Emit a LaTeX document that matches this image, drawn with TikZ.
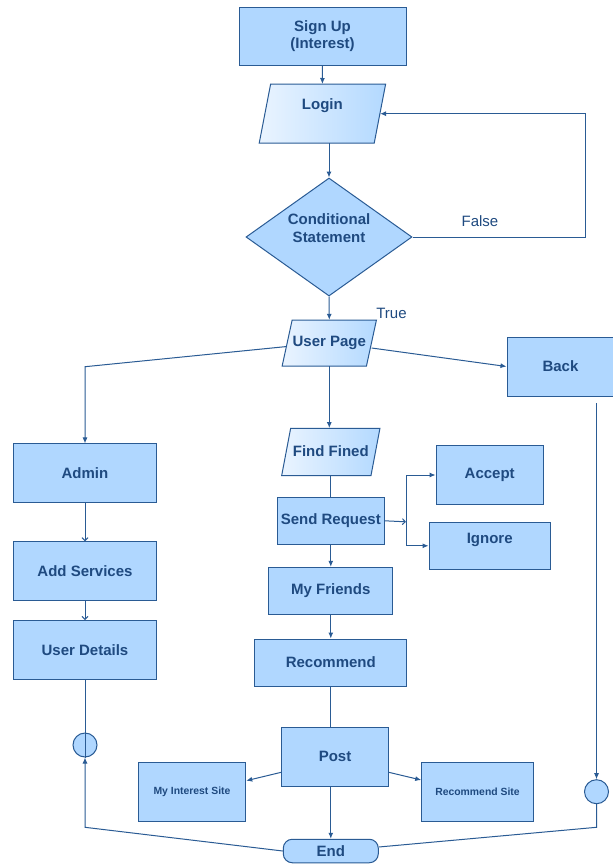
\documentclass[tikz,border=0pt]{standalone}
\usepackage{fontspec}
\setmainfont{Liberation Sans}
\usetikzlibrary{arrows.meta,shapes.geometric}
\definecolor{boxfill}{HTML}{B0D7FF}
\definecolor{edgec}{HTML}{2A5B94}
\definecolor{txt}{HTML}{1F4A80}
\definecolor{paraL}{HTML}{EAF4FF}
\definecolor{paraR}{HTML}{B3D9FF}
\newcommand\mypara[8]{%
  \shadedraw[parashape] ({#2-#4/2-#6/2},{#3+#5/2}) -- ({#2+#4/2-#6/2},{#3+#5/2}) -- ({#2+#4/2+#6/2},{#3-#5/2}) -- ({#2-#4/2+#6/2},{#3-#5/2}) -- cycle;
  \node[ghost, minimum width=#4pt, minimum height=#5pt] (#1) at (#2,#3) {};
  \node[lbl] at (#2,{#3-#8}) {#7};}
\tikzset{
 every node/.style={text=txt, font=\fontsize{15}{17.5}\selectfont\bfseries},
 box/.style={draw=edgec, fill=boxfill, line width=1pt, inner sep=0pt, align=center},
 ghost/.style={inner sep=0pt, draw=none},
 lbl/.style={align=center},
 parashape/.style={draw=edgec, line width=1pt, left color=paraL, right color=paraR},
 line/.style={draw=edgec, line width=1pt},
 arr/.style={line, -{Latex[length=6pt,width=5pt]}},
 openarr/.style={line, -{Straight Barb[length=3pt,width=6pt]}},
 circ/.style={circle, draw=edgec, fill=boxfill, line width=1pt, minimum size=24pt, inner sep=0pt},
 diam/.style={diamond, draw=edgec, fill=boxfill, line width=1pt, aspect=1.407, minimum width=166pt, minimum height=118pt, inner sep=0pt},
 endshape/.style={box, rounded corners=9pt, minimum width=95pt, minimum height=23.5pt},
 small/.style={font=\fontsize{10.4}{12}\selectfont\bfseries},
 plain/.style={font=\fontsize{15}{17.5}\selectfont},
}
\begin{document}
\begin{tikzpicture}[x=1pt,y=-1pt]
\useasboundingbox[fill=white] (0,0) rectangle (613,865);
% nodes
\node[box, minimum width=167pt, minimum height=58pt] (signup) at (322.5,36) {Sign Up\\(Interest)};
\mypara{login}{322.4}{113.7}{115}{59}{11.4}{Login}{8}
\node[diam] (cond) at (329,237) {};
\node[lbl] at (329,228) {Conditional\\Statement};
\mypara{up}{329.3}{343}{84.3}{46}{10}{User Page}{0}
\node[box, minimum width=107pt, minimum height=59pt] (back) at (560.5,366.5) {Back};
\node[box, minimum width=143.4pt, minimum height=58.7pt] (admin) at (85,473.3) {Admin};
\node[box, minimum width=143.4pt, minimum height=58.3pt] (adds) at (85,571) {Add Services};
\node[box, minimum width=143.4pt, minimum height=59.3pt] (ud) at (85,650.3) {User Details};
\mypara{find}{330.8}{452}{89.3}{47.4}{9}{Find Fined}{1}
\node[box, minimum width=107pt, minimum height=47pt] (sr) at (330.8,520.8) {Send Request};
\node[box, minimum width=107.3pt, minimum height=58.6pt] (acc) at (489.7,475) {Accept};
\node[box, minimum width=121.3pt, minimum height=47pt] (ign) at (489.7,545.8) {};
\node[lbl] at (489.7,539.5) {Ignore};
\node[box, minimum width=123.7pt, minimum height=47pt] (mf) at (330.8,590.8) {My Friends};
\node[box, minimum width=151.7pt, minimum height=47pt] (rec) at (330.8,662.5) {Recommend};
\node[box, minimum width=106.6pt, minimum height=58.7pt] (post) at (335,756.7) {Post};
\node[box, small, minimum width=107.4pt, minimum height=59.4pt] (mis) at (192,792) {My Interest Site};
\node[box, small, minimum width=111.6pt, minimum height=59.4pt] (rs) at (477.5,792) {Recommend Site};
\node[endshape] (end) at (330.8,851) {End};
\node[circ] (c1) at (85,745) {};
\node[circ] (c2) at (596.5,791.7) {};
\node[plain] (flbl) at (480,221) {False};
\node[plain] (tlbl) at (391.5,313.5) {True};
% coordinates
\coordinate (f1) at (585,237);
\coordinate (f2) at (585,113.7);
\coordinate (a1) at (85,366.7);
\coordinate (br) at (406,521.8);
\coordinate (brT) at (406,475);
\coordinate (brB) at (406,545.8);
\coordinate (l1) at (85,827.3);
\coordinate (r0) at (596.5,403);
\coordinate (r1) at (596.5,827.3);
% connectors
\draw[arr] (signup.south) -- (login.north);
\draw[arr] (cond.north |- login.south) -- (cond.north);
\draw[arr] (cond.east) -- (f1) -- (f2) -- (login.east);
\draw[arr] (cond.south) -- (up.north);
\draw[arr] ([yshift=-3.5pt]up.west) -- (a1) -- (admin.north);
\draw[arr] ([yshift=-5pt]up.east) -- (back.west);
\draw[arr] (up.south) -- (up.south |- find.north);
\draw[line] (find.south) -- (sr.north);
\draw[openarr] (sr.east) -- (br);
\draw[arr] (br) -- (brT) -- (acc.west);
\draw[arr] (br) -- (brB) -- (ign.west);
\draw[arr] (sr.south) -- (mf.north);
\draw[arr] (mf.south) -- (rec.north);
\draw[line] (rec.south) -- (rec.south |- post.north);
\draw[arr] (end.north |- post.south) -- (end.north);
\draw[arr] ([yshift=-15.6pt]post.west) -- ([yshift=11.3pt]mis.east);
\draw[arr] ([yshift=-15.6pt]post.east) -- ([yshift=12pt]rs.west);
\draw[openarr] (admin.south) -- (adds.north);
\draw[openarr] (adds.south) -- (ud.north);
\draw[line] (ud.south) -- (c1.south);
\draw[arr] (end.west) -- (l1) -- (c1.south);
\draw[arr] (r0) -- (c2.north);
\draw[line] (c2.south) -- (r1) -- ([yshift=4pt]end.east);
\end{tikzpicture}
\end{document}
